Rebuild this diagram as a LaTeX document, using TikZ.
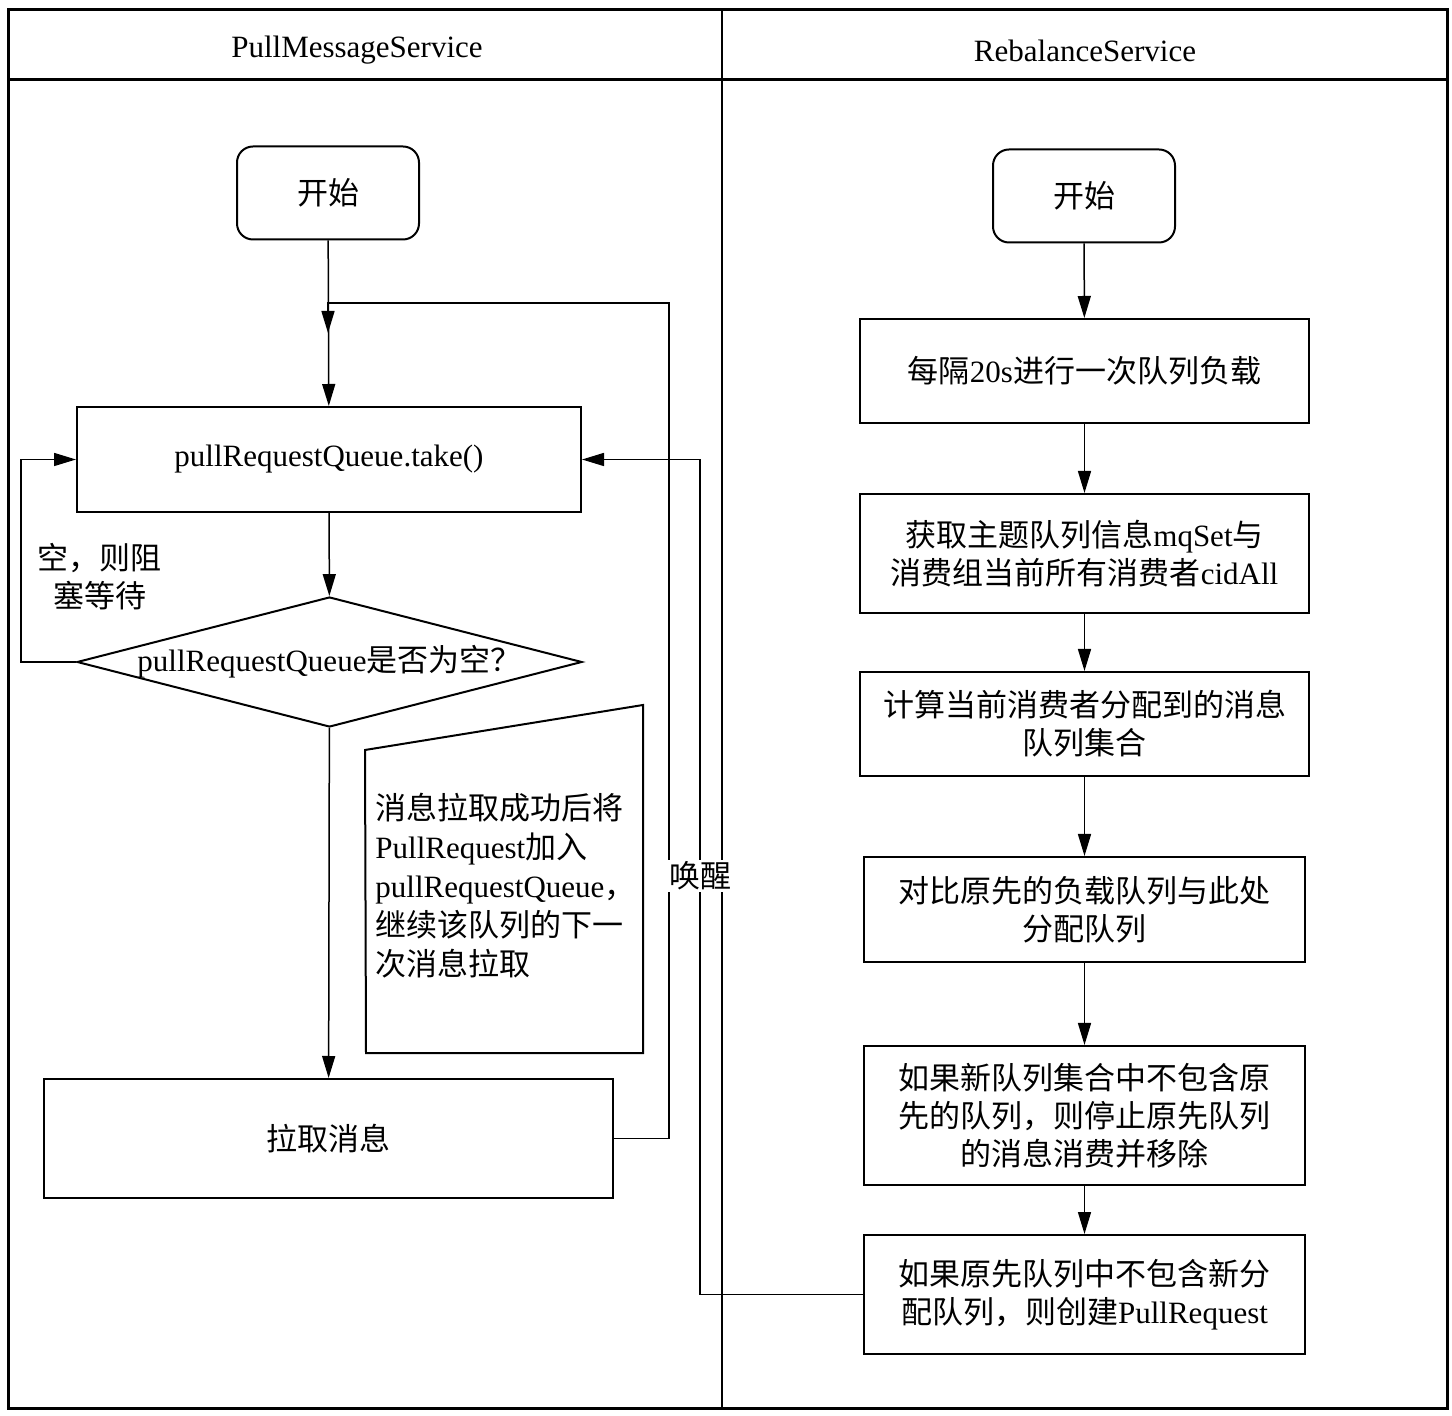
\documentclass[tikz,border=0pt]{standalone}
\usepackage{fontspec}
\setmainfont{Liberation Serif}
\newfontfamily\cjk{Noto Sans CJK SC}
\newcommand{\zh}[1]{{\cjk #1}}
\usetikzlibrary{arrows.meta,shapes.geometric}

\tikzset{
	flowbox/.style={draw, line width=1pt, align=center, inner sep=2pt},
	startbox/.style={flowbox, rounded corners=8pt, minimum width=91pt, minimum height=46.5pt},
	arr/.style={-{Triangle[length=11pt,width=6.5pt]}, line width=0.75pt},
	lane/.style={line width=1.5pt}
}

\begin{document}
\begin{tikzpicture}[x=0.5pt, y=-0.5pt, font=\fontsize{15.5}{19}\selectfont]
	\useasboundingbox (0,0) rectangle (1452,1416);

	% lanes
	\draw[lane] (8,10) rectangle (1447,1408);
	\draw[lane] (8,80) -- (1447,80);
	\draw[line width=1pt] (722,10) -- (722,1408);
	\node (head1) at (357,50) {PullMessageService};
	\node (head2) at (1085,51) {RebalanceService};

	% PullMessageService
	\node[startbox] (start1) at (328,193) {\zh{开始}};
	\node[flowbox, minimum width=252pt, minimum height=52.5pt] (take) at (329,459.5) {pullRequestQueue.take()};
	\node[draw, line width=1pt, shape=diamond, shape aspect=3.9, inner xsep=-4pt, inner ysep=0pt, minimum width=252.5pt, minimum height=65pt] (empty) at (329.5,662) {pullRequestQueue\zh{是否为空？}};
	\node[flowbox, minimum width=284.5pt, minimum height=59.5pt] (pull) at (328.5,1138.5) {\zh{拉取消息}};
	\node[align=center] (waitlbl) at (100,577) {\zh{空，则阻}\\\zh{塞等待}};

	\draw[line width=1pt] (365,750) -- (643,705) -- (643,1053) -- (366,1053) -- cycle;
	\node[align=left, anchor=north west, inner sep=0pt, font=\fontsize{15.5}{19.5}\selectfont] (note) at (375,793)
		{\zh{消息拉取成功后将}\\PullRequest\zh{加入}\\pullRequestQueue\zh{，}\\\zh{继续该队列的下一}\\\zh{次消息拉取}};

	\coordinate (back) at (669,303);
	\coordinate (join) at (328,303);
	\coordinate (wake) at (700,876);

	\draw[arr] (start1) -- (take);
	\draw[arr] (pull.east) -| (back) -- (join) -- ++(0,30);
	\draw[arr] (take) -- (empty);
	\draw[arr] (empty) -- (pull);
	\draw[arr] (empty.west) -- ++(-55,0) |- (take.west);

	% RebalanceService
	\node[startbox] (start2) at (1084,196) {\zh{开始}};
	\node[flowbox, minimum width=224.5pt, minimum height=52pt] (b1) at (1084.5,371) {\zh{每隔}20s\zh{进行一次队列负载}};
	\node[flowbox, minimum width=224.5pt, minimum height=59.5pt] (b2) at (1084.5,553.5) {\zh{获取主题队列信息}mqSet\zh{与}\\\zh{消费组当前所有消费者}cidAll};
	\node[flowbox, minimum width=224.5pt, minimum height=52pt] (b3) at (1084.5,724) {\zh{计算当前消费者分配到的消息}\\\zh{队列集合}};
	\node[flowbox, minimum width=220.5pt, minimum height=52.5pt] (b4) at (1084.5,909.5) {\zh{对比原先的负载队列与此处}\\\zh{分配队列}};
	\node[flowbox, minimum width=220.5pt, minimum height=69.5pt] (b5) at (1084.5,1115.5) {\zh{如果新队列集合中不包含原}\\\zh{先的队列，则停止原先队列}\\\zh{的消息消费并移除}};
	\node[flowbox, minimum width=220.5pt, minimum height=59.5pt] (b6) at (1084.5,1294.5) {\zh{如果原先队列中不包含新分}\\\zh{配队列，则创建}PullRequest};

	\foreach \a/\b in {start2/b1, b1/b2, b2/b3, b3/b4, b4/b5, b5/b6}
		\draw[arr] (\a) -- (\b);

	\draw[arr] (b6.west) -| (wake) |- (take.east);
	\node[fill=white, inner sep=1pt] (wakelbl) at (wake) {\zh{唤醒}};

\end{tikzpicture}
\end{document}
